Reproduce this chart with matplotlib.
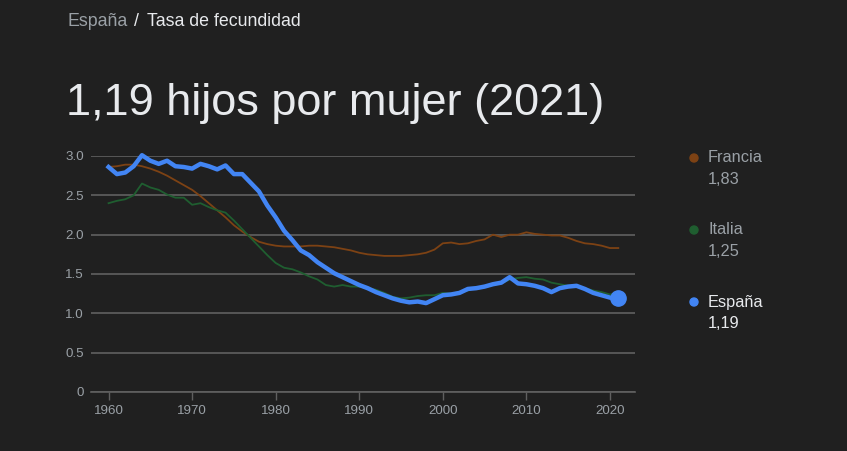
import numpy as np
import matplotlib.pyplot as plt
from matplotlib.patches import Ellipse

# Datos (hijos por mujer)
years = list(range(1960, 2022))

espana = [2.86, 2.77, 2.79, 2.87, 3.01, 2.94, 2.90, 2.94, 2.87, 2.86,
          2.84, 2.90, 2.87, 2.83, 2.88, 2.77, 2.77, 2.66, 2.55, 2.37,
          2.22, 2.05, 1.93, 1.80, 1.74, 1.65, 1.58, 1.51, 1.46, 1.41,
          1.36, 1.32, 1.27, 1.23, 1.19, 1.16, 1.14, 1.15, 1.13, 1.18,
          1.23, 1.24, 1.26, 1.31, 1.32, 1.34, 1.37, 1.39, 1.46, 1.38,
          1.37, 1.35, 1.32, 1.27, 1.32, 1.34, 1.35, 1.31, 1.26, 1.23,
          1.20, 1.19]

francia = [2.86, 2.87, 2.89, 2.89, 2.87, 2.84, 2.80, 2.75, 2.69, 2.63,
           2.57, 2.49, 2.40, 2.31, 2.22, 2.12, 2.04, 1.97, 1.91, 1.88,
           1.86, 1.85, 1.85, 1.85, 1.86, 1.86, 1.85, 1.84, 1.82, 1.80,
           1.77, 1.75, 1.74, 1.73, 1.73, 1.73, 1.74, 1.75, 1.77, 1.81,
           1.89, 1.90, 1.88, 1.89, 1.92, 1.94, 2.00, 1.97, 2.00, 2.00,
           2.03, 2.01, 2.00, 1.99, 1.99, 1.96, 1.92, 1.89, 1.88, 1.86,
           1.83, 1.83]

italia = [2.40, 2.43, 2.45, 2.50, 2.65, 2.60, 2.57, 2.51, 2.47, 2.47,
          2.38, 2.40, 2.35, 2.31, 2.28, 2.18, 2.07, 1.96, 1.85, 1.74,
          1.64, 1.58, 1.56, 1.52, 1.47, 1.43, 1.36, 1.34, 1.36, 1.34,
          1.34, 1.32, 1.30, 1.26, 1.21, 1.19, 1.20, 1.22, 1.23, 1.23,
          1.26, 1.25, 1.27, 1.29, 1.33, 1.33, 1.36, 1.38, 1.43, 1.45,
          1.46, 1.44, 1.43, 1.39, 1.37, 1.35, 1.34, 1.32, 1.29, 1.27,
          1.24, 1.25]

x_ticks = [1960, 1970, 1980, 1990, 2000, 2010, 2020]
y_ticks = [0, 0.5, 1.0, 1.5, 2.0, 2.5, 3.0]
y_labels = ['0', '0.5', '1.0', '1.5', '2.0', '2.5', '3.0']

BG = '#202020'
GRID = '#606060'
TXT = '#e8eaed'
TXT2 = '#9aa0a6'
C_ES = '#4285f4'
C_FR = '#7d4214'
C_IT = '#1f5e30'

plt.rcParams['font.family'] = ['Liberation Sans', 'DejaVu Sans']

W, H = 847, 451
fig = plt.figure(figsize=(W / 100, H / 100), dpi=100, facecolor=BG)
ax = fig.add_axes([91 / W, 59 / H, 544 / W, 236 / H], facecolor=BG)

ax.plot(years, francia, color=C_FR, lw=1.3, zorder=3, clip_on=False)
ax.plot(years, italia, color=C_IT, lw=1.3, zorder=3, clip_on=False)
ax.plot(years, espana, color=C_ES, lw=3.2, zorder=4, clip_on=False,
        solid_joinstyle='round')
ax.plot(years[-1], espana[-1], 'o', color=C_ES, ms=11, zorder=5, clip_on=False)

ax.set_xlim(1957.9, 2023.0)
ax.set_ylim(0, 3.0)
ax.set_yticks(y_ticks)
ax.set_yticklabels(y_labels)
ax.set_xticks(x_ticks)
ax.grid(axis='y', color=GRID, lw=1.2)
ax.set_axisbelow(True)
for s in ['top', 'right', 'left']:
    ax.spines[s].set_visible(False)
ax.spines['bottom'].set_color(GRID)
ax.spines['bottom'].set_linewidth(1.2)
ax.tick_params(axis='y', length=0, pad=5, labelsize=9.6, labelcolor=TXT2)
ax.tick_params(axis='x', length=6, width=1, color=GRID, pad=3.5,
               labelsize=9.6, labelcolor=TXT2)

# Cabecera
fig.text(67 / W, 1 - 22 / H, 'España', color=TXT2, fontsize=12.8, va='center')
fig.text(134 / W, 1 - 22 / H, '/', color=TXT, fontsize=12.8, va='center')
fig.text(147 / W, 1 - 22 / H, 'Tasa de fecundidad', color=TXT,
         fontsize=12.8, va='center')
fig.text(66 / W, 1 - 104 / H, '1,19 hijos por mujer (2021)', color=TXT,
         fontsize=32.5, va='center')

# Leyenda
leyenda = [('Francia', '1,83', C_FR, TXT2, 158),
           ('Italia', '1,25', C_IT, TXT2, 230),
           ('España', '1,19', C_ES, TXT, 302)]
for nombre, valor, c, tc, yy in leyenda:
    fig.add_artist(Ellipse((694 / W, 1 - yy / H), 8 / W, 8 / H,
                           transform=fig.transFigure, color=c))
    fig.text(708 / W, 1 - yy / H, nombre, color=tc, fontsize=11.8, va='center')
    fig.text(708 / W, 1 - (yy + 21) / H, valor, color=tc, fontsize=11.8,
             va='center')

fig.savefig('out.png', dpi=100, facecolor=BG)
